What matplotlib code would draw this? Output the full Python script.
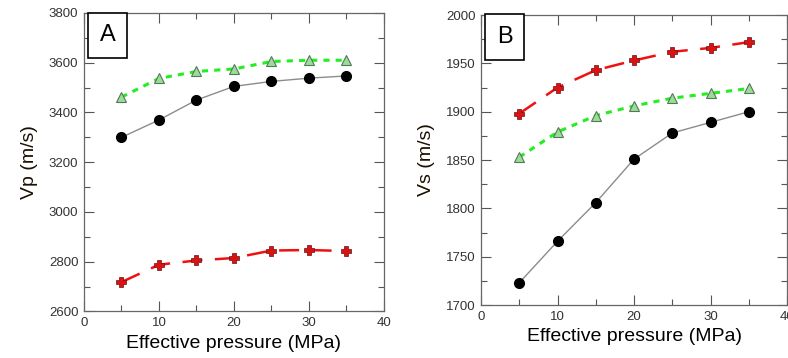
import matplotlib.pyplot as plt
from matplotlib.ticker import MultipleLocator

plt.rcParams['font.family'] = ['Liberation Sans', 'DejaVu Sans']

pressure = [5, 10, 15, 20, 25, 30, 35]

# panel A: Vp
vp_black = [3300, 3370, 3450, 3505, 3525, 3538, 3547]
vp_green = [3462, 3537, 3565, 3575, 3605, 3610, 3610]
vp_red = [2718, 2788, 2805, 2815, 2845, 2847, 2843]

# panel B: Vs
vs_black = [1723, 1766, 1806, 1851, 1878, 1889, 1900]
vs_green = [1853, 1879, 1896, 1906, 1914, 1919, 1924]
vs_red = [1898, 1925, 1943, 1953, 1962, 1966, 1972]

fig = plt.figure(figsize=(7.88, 3.58), dpi=100)
axA = fig.add_axes([0.1066, 0.130, 0.3807, 0.8337])
axB = fig.add_axes([0.6104, 0.148, 0.3886, 0.810])


def draw(ax, black, green, red, ylim, major, minor, ylabel, tag):
    ax.plot(pressure, black, color='#8c8c8c', lw=1, marker='o', ms=7,
            mfc='black', mec='black', zorder=3)
    ax.plot(pressure, green, color='#22ee22', lw=2.2, ls=(0, (2, 2)),
            marker='^', ms=6.5, mfc='#99dd99', mec='#557755', mew=0.8, zorder=3)
    ax.plot(pressure, red, color='#ee1111', lw=1.8, ls=(0, (8, 5)),
            marker='P', ms=7, mfc='#dd1111', mec='#661111', mew=0.5, zorder=3)
    ax.set_xlim(0, 40)
    ax.set_ylim(*ylim)
    ax.xaxis.set_major_locator(MultipleLocator(10))
    ax.xaxis.set_minor_locator(MultipleLocator(5))
    ax.yaxis.set_major_locator(MultipleLocator(major))
    ax.yaxis.set_minor_locator(MultipleLocator(minor))
    ax.tick_params(which='both', direction='in', top=True, right=True,
                   color='#555555', labelsize=9.5, labelcolor='#333333')
    ax.tick_params(which='major', length=7, width=0.8, pad=4)
    ax.tick_params(which='minor', length=4, width=0.8)
    for s in ax.spines.values():
        s.set_color('#666666')
        s.set_linewidth(0.9)
    ax.set_xlabel('Effective pressure (MPa)', fontsize=14, labelpad=4)
    ax.set_ylabel(ylabel, fontsize=14, color='#1a1000', labelpad=8)
    ax.text(0.078, 0.925, tag, transform=ax.transAxes, fontsize=17,
            ha='center', va='center',
            bbox=dict(boxstyle='square,pad=0.5', fc='white', ec='black', lw=1.2))


draw(axA, vp_black, vp_green, vp_red, (2600, 3800), 200, 100, 'Vp (m/s)', 'A')
draw(axB, vs_black, vs_green, vs_red, (1700, 2000), 50, 25, 'Vs (m/s)', 'B')

fig.savefig('out.png', dpi=100)
